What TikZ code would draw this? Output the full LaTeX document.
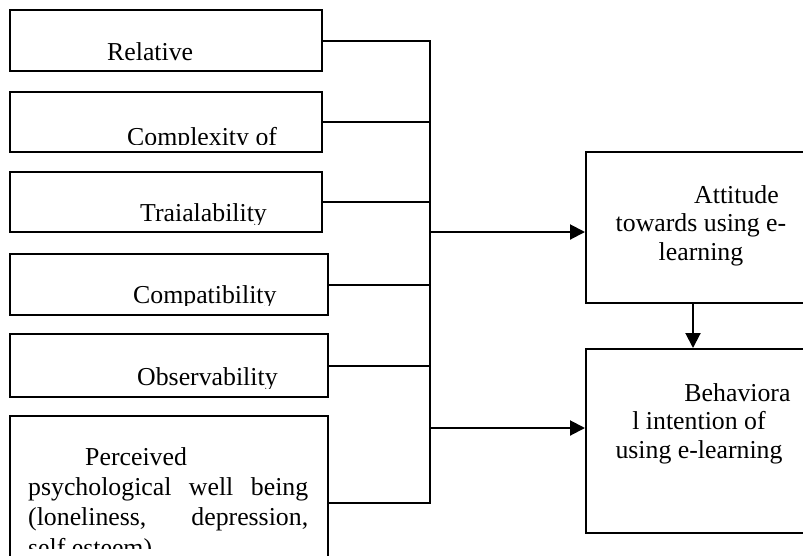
\documentclass[tikz,border=0pt]{standalone}
\usepackage{fontspec}
\setmainfont{Liberation Serif}
\usetikzlibrary{arrows.meta}
\begin{document}
\begin{tikzpicture}[x=1pt,y=-1pt,>={Triangle[length=15pt,width=15pt]},
		box/.style={draw,rectangle,line width=2pt,inner sep=0pt},
		lbl/.style={font=\fontsize{25.8}{28.5}\selectfont,inner sep=0pt},
		link/.style={line width=2pt},
		arr/.style={->,line width=2pt}]
		\useasboundingbox (0,0) rectangle (803,555);
		\clip (0,0) rectangle (803,555);
		
		% factor boxes on the left
		\node[box,minimum width=312pt,minimum height=61pt] (R) at (166,40.5) {};
		\node[box,minimum width=312pt,minimum height=60pt] (C) at (166,122) {};
		\node[box,minimum width=312pt,minimum height=60pt] (T) at (166,202) {};
		\node[box,minimum width=318pt,minimum height=61pt] (P) at (169,284.5) {};
		\node[box,minimum width=318pt,minimum height=63pt] (O) at (169,365.5) {};
		\node[box,minimum width=318pt,minimum height=174pt] (W) at (169,503) {};
		
		% outcome boxes on the right
		\node[box,minimum width=220pt,minimum height=151pt] (A) at (696,227.5) {};
		\node[box,minimum width=220pt,minimum height=184pt] (B) at (696,441) {};
		
		% texts, cut off at the bottom of their boxes
		\begin{scope}
			\clip (R.north west) rectangle ([yshift=9pt]R.south east);
			\node[lbl,anchor=base west] (r) at (107,60) {Relative};
		\end{scope}
		\begin{scope}
			\clip (C.north west) rectangle ([yshift=9pt]C.south east);
			\node[lbl,anchor=base west] (c) at (127,145) {Complexity of};
		\end{scope}
		\begin{scope}
			\clip (T.north west) rectangle ([yshift=9pt]T.south east);
			\node[lbl,anchor=base west] (t) at (140,221) {Traialability};
		\end{scope}
		\begin{scope}
			\clip (P.north west) rectangle ([yshift=11pt]P.south east);
			\node[lbl,anchor=base west] (p) at (133,303) {Compatibility};
		\end{scope}
		\begin{scope}
			\clip (O.north west) rectangle ([yshift=10pt]O.south east);
			\node[lbl,anchor=base west] (o) at (137,385) {Observability};
		\end{scope}
		\begin{scope}
			\clip (W.north west) rectangle ([yshift=43pt]W.south east);
			\node[lbl,font=\fontsize{25.8}{30.3}\selectfont,align=left,anchor=base west] (w) at (28,556)
			{\hspace*{57pt}Perceived\\
				\makebox[280pt][s]{psychological well being}\\
				\makebox[280pt][s]{(loneliness, depression,}\\
				self esteem)};
		\end{scope}
		\node[lbl,align=center,anchor=base] (a) at (701,260)
		{\hspace*{71pt}Attitude\\towards using e-\\learning};
		\node[lbl,align=center,anchor=base] (b) at (699,458)
		{\hspace*{77pt}Behaviora\\l intention of\\using e-learning};
		
		% collecting line and arrows
		\coordinate (bus) at (430,0);
		\coordinate (ja) at (430,232);
		\coordinate (jb) at (430,428);
		\coordinate (jd) at (693,0);
		\draw[link] (R.east) -| (bus |- W.east) -- (W.east);
		\draw[link] (C.east) -- (C.east -| bus);
		\draw[link] (T.east) -- (T.east -| bus);
		\draw[link] (P.east) -- (P.east -| bus);
		\draw[link] (O.east) -- (O.east -| bus);
		\draw[arr] (ja) -- (ja -| A.west);
		\draw[arr] (jb) -- (jb -| B.west);
		\draw[arr] (A.south -| jd) -- (B.north -| jd);
\end{tikzpicture}
\end{document}
